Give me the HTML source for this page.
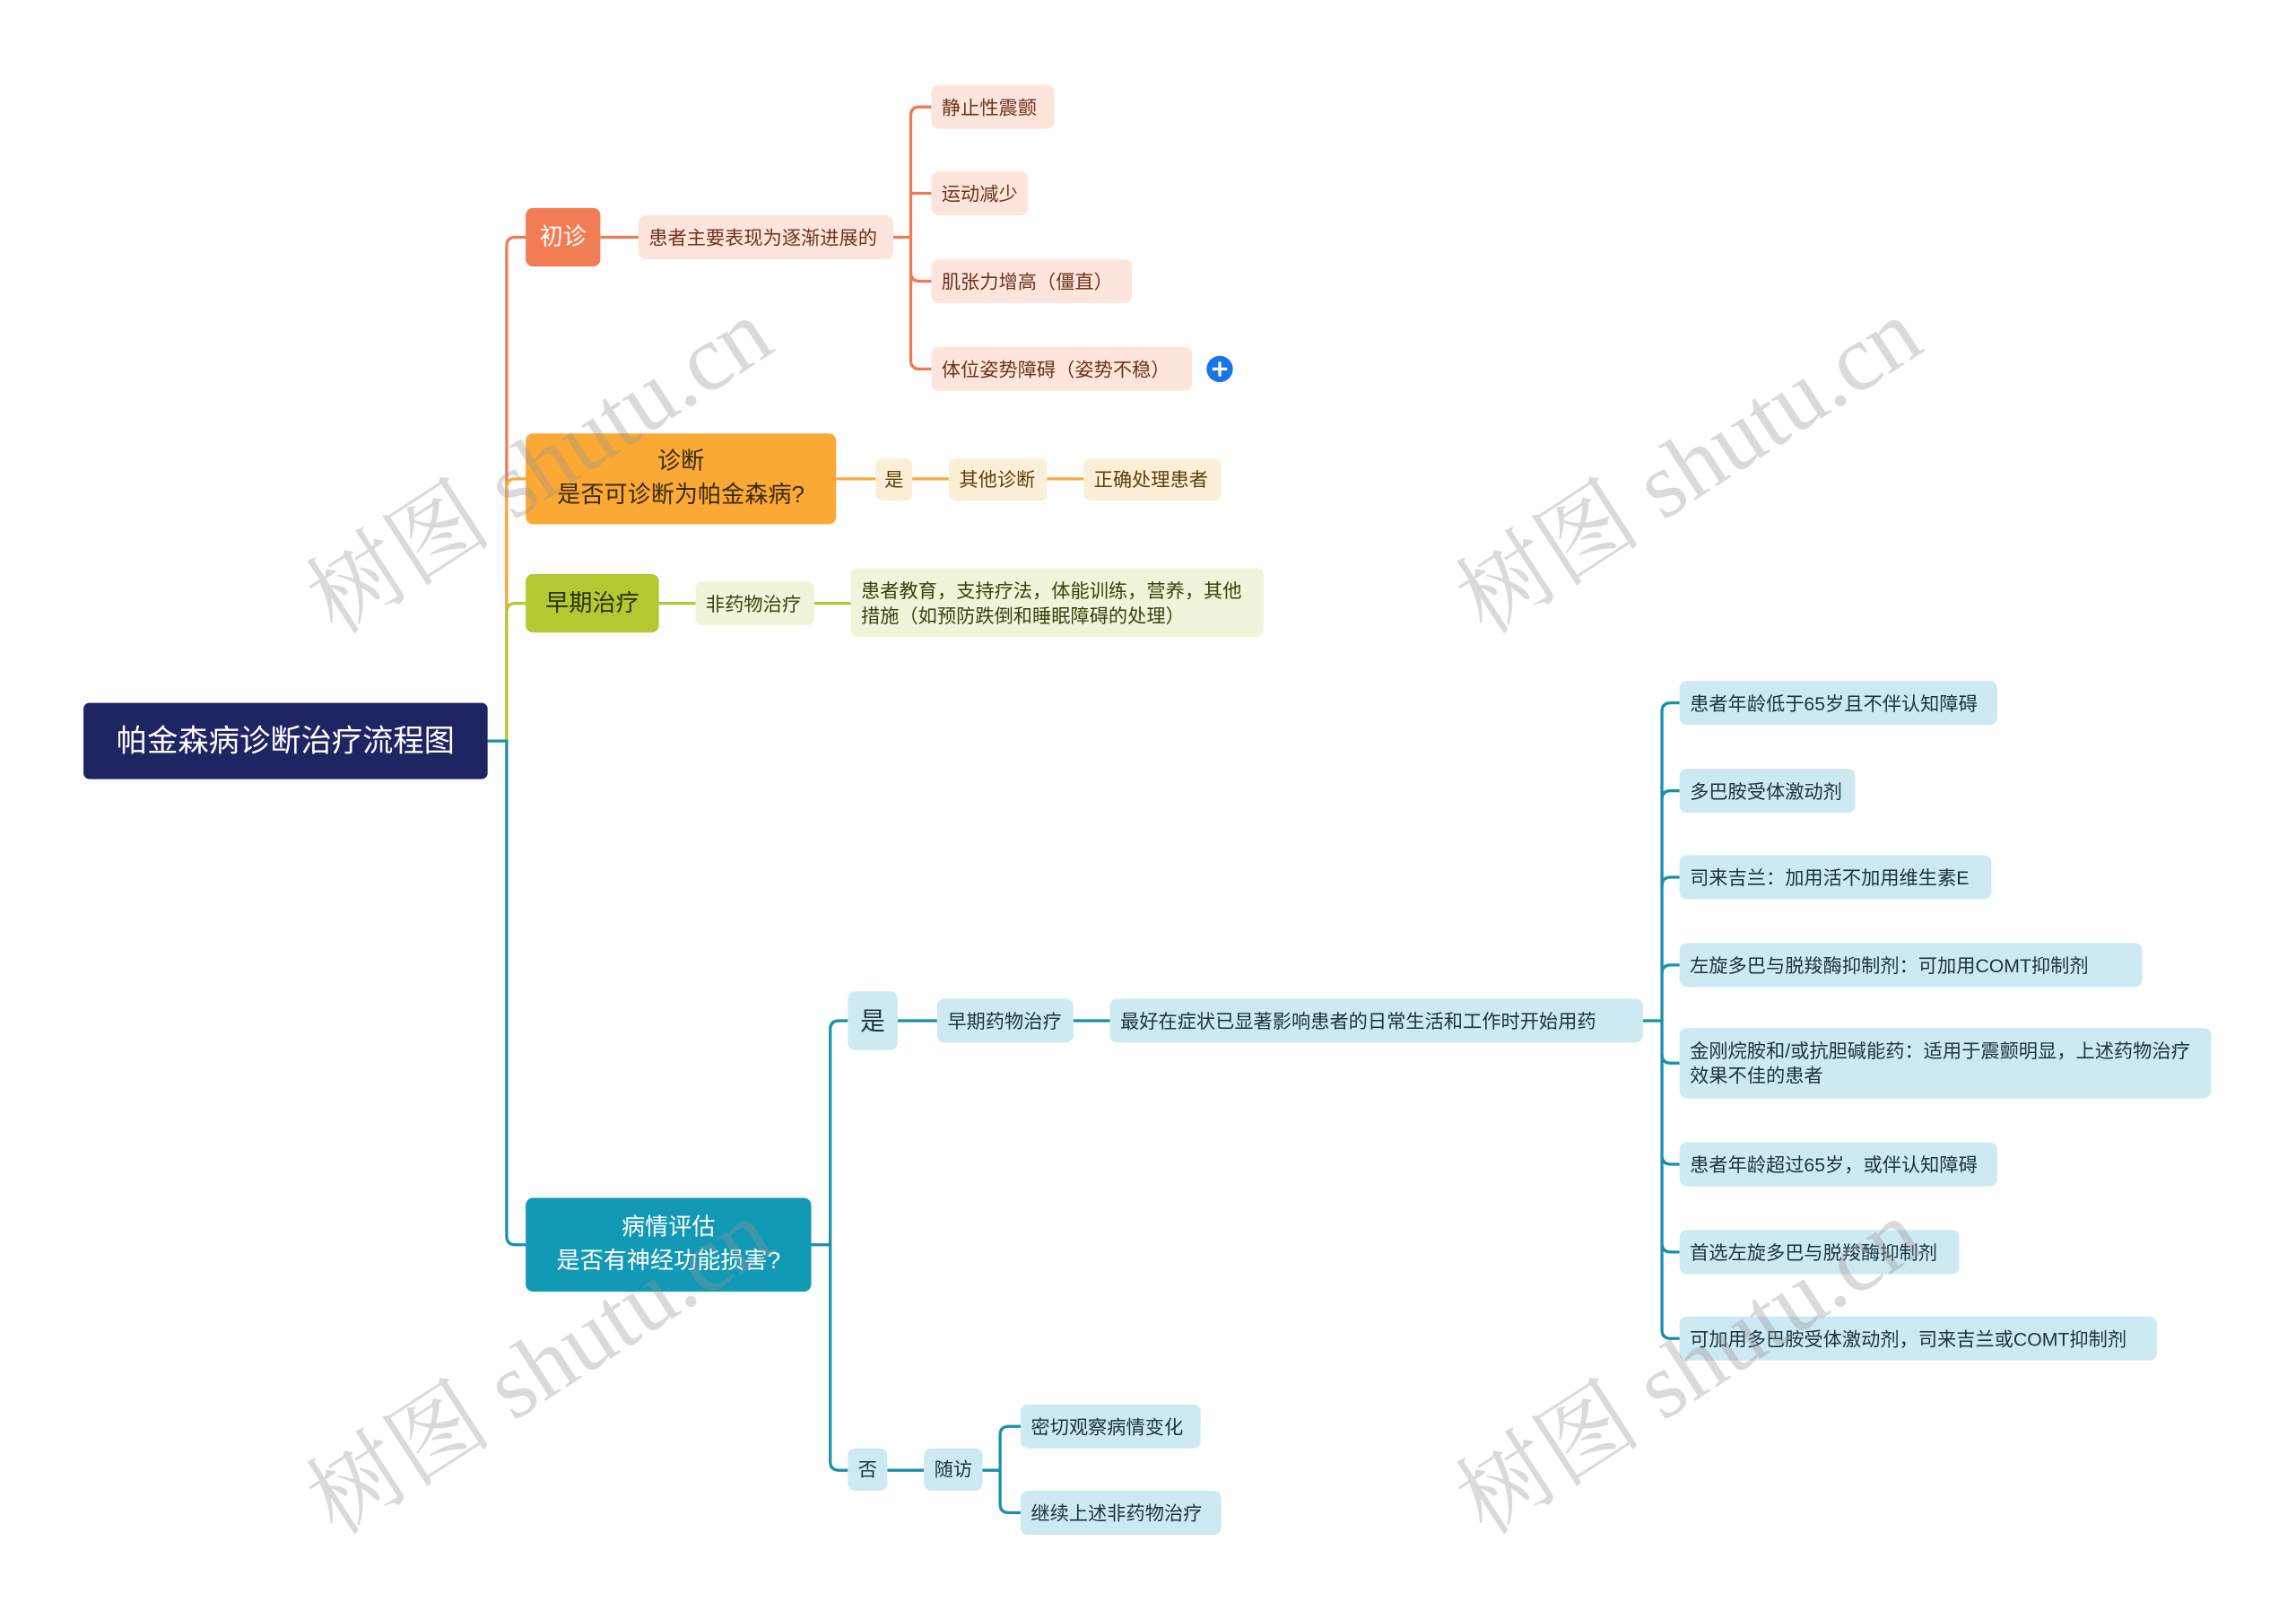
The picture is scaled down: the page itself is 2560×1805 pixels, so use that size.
<!DOCTYPE html>
<html><head><meta charset="utf-8"><style>
html,body{margin:0;padding:0;background:#fff;width:2560px;height:1805px;overflow:hidden}
#c{position:absolute;left:0;top:0;width:1568px;height:1105px;transform:scale(1.63265);transform-origin:0 0;font-family:"Liberation Sans","Noto Sans CJK SC",sans-serif}
.n{position:absolute;box-sizing:border-box;border-radius:5px;display:flex;align-items:center;font-size:13px;padding:0 7px;white-space:nowrap;line-height:17px}
.o{background:#fde5db;color:#6b3420}
.y{background:#fdefd6;color:#5a4010}
.g{background:#f1f4d9;color:#3c4010}
.b{background:#cde9f1;color:#1c3440}
.wm{position:absolute;font-family:"Liberation Serif","Noto Serif CJK SC",serif;font-size:64px;color:rgba(150,150,150,0.35);transform:rotate(-33deg);white-space:nowrap}
svg{position:absolute;left:0;top:0}
</style></head><body><div id="c">
<svg width="1568" height="1105" fill="none" stroke-width="2">
<g stroke="#f07a52">
<path d="M346 506 V168 Q346 162 352 162 H359"/>
<path d="M410 162 H436"/>
<path d="M610 162 H622"/>
<path d="M622 162 V79 Q622 73 628 73 H636"/>
<path d="M622 132 H636"/>
<path d="M622 162 V186 Q622 192 628 192 H636"/>
<path d="M622 186 V246 Q622 252 628 252 H636"/>
</g>
<g stroke="#f9a93a">
<path d="M346 506 V333 Q346 327 352 327 H359"/>
<path d="M571 327 H598 M623 327 H648 M715 327 H740"/>
</g>
<g stroke="#b5c733">
<path d="M346 506 V418 Q346 412 352 412 H359"/>
<path d="M450 412 H475 M556 412 H581"/>
</g>
<g stroke="#1690ab">
<path d="M333 506 H346 V844 Q346 850 352 850 H359"/>
<path d="M554 850 H567"/>
<path d="M567 850 V703 Q567 697 573 697 H579"/>
<path d="M567 850 V998 Q567 1004 573 1004 H579"/>
<path d="M613 697 H640 M733 697 H758 M1122 697 H1135"/>
<path d="M1135 697 V486 Q1135 480 1141 480 H1147"/>
<path d="M1135 546 Q1135 540 1141 540 H1147"/>
<path d="M1135 605 Q1135 599 1141 599 H1147"/>
<path d="M1135 665 Q1135 659 1141 659 H1147"/>
<path d="M1135 697 V720 Q1135 726 1141 726 H1147"/>
<path d="M1135 720 V789 Q1135 795 1141 795 H1147"/>
<path d="M1135 789 V849 Q1135 855 1141 855 H1147"/>
<path d="M1135 849 V908 Q1135 914 1141 914 H1147"/>
<path d="M606 1004 H631 M671 1004 H683"/>
<path d="M683 1004 V980 Q683 974 689 974 H697"/>
<path d="M683 1004 V1027 Q683 1033 689 1033 H697"/>
</g>
<circle cx="833" cy="252" r="9" fill="#1a73e8" stroke="none"/>
<path d="M828 252 H838 M833 247 V257" stroke="#fff" stroke-width="2"/>
</svg>

<div class="n" style="left:57px;top:480px;width:276px;height:52px;background:#1f2563;color:#fff;font-size:21px;justify-content:center;border-radius:4px">帕金森病诊断治疗流程图</div>

<div class="n" style="left:359px;top:142px;width:51px;height:40px;background:#f27c54;color:#fff;font-size:16px;justify-content:center">初诊</div>
<div class="n o" style="left:436px;top:147px;width:174px;height:30px">患者主要表现为逐渐进展的</div>
<div class="n o" style="left:636px;top:58px;width:84px;height:30px">静止性震颤</div>
<div class="n o" style="left:636px;top:117px;width:66px;height:30px">运动减少</div>
<div class="n o" style="left:636px;top:177px;width:137px;height:30px">肌张力增高（僵直）</div>
<div class="n o" style="left:636px;top:237px;width:178px;height:30px">体位姿势障碍（姿势不稳）</div>

<div class="n" style="left:359px;top:296px;width:212px;height:62px;background:#fba935;color:#3a2a10;font-size:16px;justify-content:center;text-align:center;line-height:23px;white-space:normal">诊断<br>是否可诊断为帕金森病?</div>
<div class="n y" style="left:598px;top:313px;width:25px;height:29px;justify-content:center;padding:0">是</div>
<div class="n y" style="left:648px;top:313px;width:67px;height:29px">其他诊断</div>
<div class="n y" style="left:740px;top:313px;width:94px;height:29px">正确处理患者</div>

<div class="n" style="left:359px;top:392px;width:91px;height:40px;background:#b5c832;color:#2a3008;font-size:16px;justify-content:center">早期治疗</div>
<div class="n g" style="left:475px;top:397px;width:81px;height:30px">非药物治疗</div>
<div class="n g" style="left:581px;top:388px;width:282px;height:47px;white-space:normal;line-height:17px">患者教育，支持疗法，体能训练，营养，其他措施（如预防跌倒和睡眠障碍的处理）</div>

<div class="n" style="left:359px;top:818px;width:195px;height:64px;background:#1299b5;color:#fff;font-size:16px;justify-content:center;text-align:center;line-height:23px;white-space:normal">病情评估<br>是否有神经功能损害?</div>
<div class="n b" style="left:579px;top:677px;width:34px;height:40px;font-size:17px;justify-content:center;padding:0">是</div>
<div class="n b" style="left:640px;top:682px;width:93px;height:30px">早期药物治疗</div>
<div class="n b" style="left:758px;top:682px;width:364px;height:30px">最好在症状已显著影响患者的日常生活和工作时开始用药</div>
<div class="n b" style="left:1147px;top:465px;width:217px;height:30px">患者年龄低于65岁且不伴认知障碍</div>
<div class="n b" style="left:1147px;top:525px;width:120px;height:30px">多巴胺受体激动剂</div>
<div class="n b" style="left:1147px;top:584px;width:213px;height:30px">司来吉兰：加用活不加用维生素E</div>
<div class="n b" style="left:1147px;top:644px;width:316px;height:30px">左旋多巴与脱羧酶抑制剂：可加用COMT抑制剂</div>
<div class="n b" style="left:1147px;top:702px;width:363px;height:48px;white-space:normal">金刚烷胺和/或抗胆碱能药：适用于震颤明显，上述药物治疗效果不佳的患者</div>
<div class="n b" style="left:1147px;top:780px;width:217px;height:30px">患者年龄超过65岁，或伴认知障碍</div>
<div class="n b" style="left:1147px;top:840px;width:191px;height:30px">首选左旋多巴与脱羧酶抑制剂</div>
<div class="n b" style="left:1147px;top:899px;width:326px;height:30px">可加用多巴胺受体激动剂，司来吉兰或COMT抑制剂</div>
<div class="n b" style="left:579px;top:989px;width:27px;height:29px;justify-content:center;padding:0">否</div>
<div class="n b" style="left:631px;top:989px;width:40px;height:29px;justify-content:center;padding:0">随访</div>
<div class="n b" style="left:697px;top:959px;width:123px;height:30px">密切观察病情变化</div>
<div class="n b" style="left:697px;top:1018px;width:137px;height:30px">继续上述非药物治疗</div>

<div class="wm" style="left:186px;top:268px">树图 shutu.cn</div>
<div class="wm" style="left:971px;top:268px">树图 shutu.cn</div>
<div class="wm" style="left:186px;top:883px">树图 shutu.cn</div>
<div class="wm" style="left:971px;top:883px">树图 shutu.cn</div>
</div></body></html>
